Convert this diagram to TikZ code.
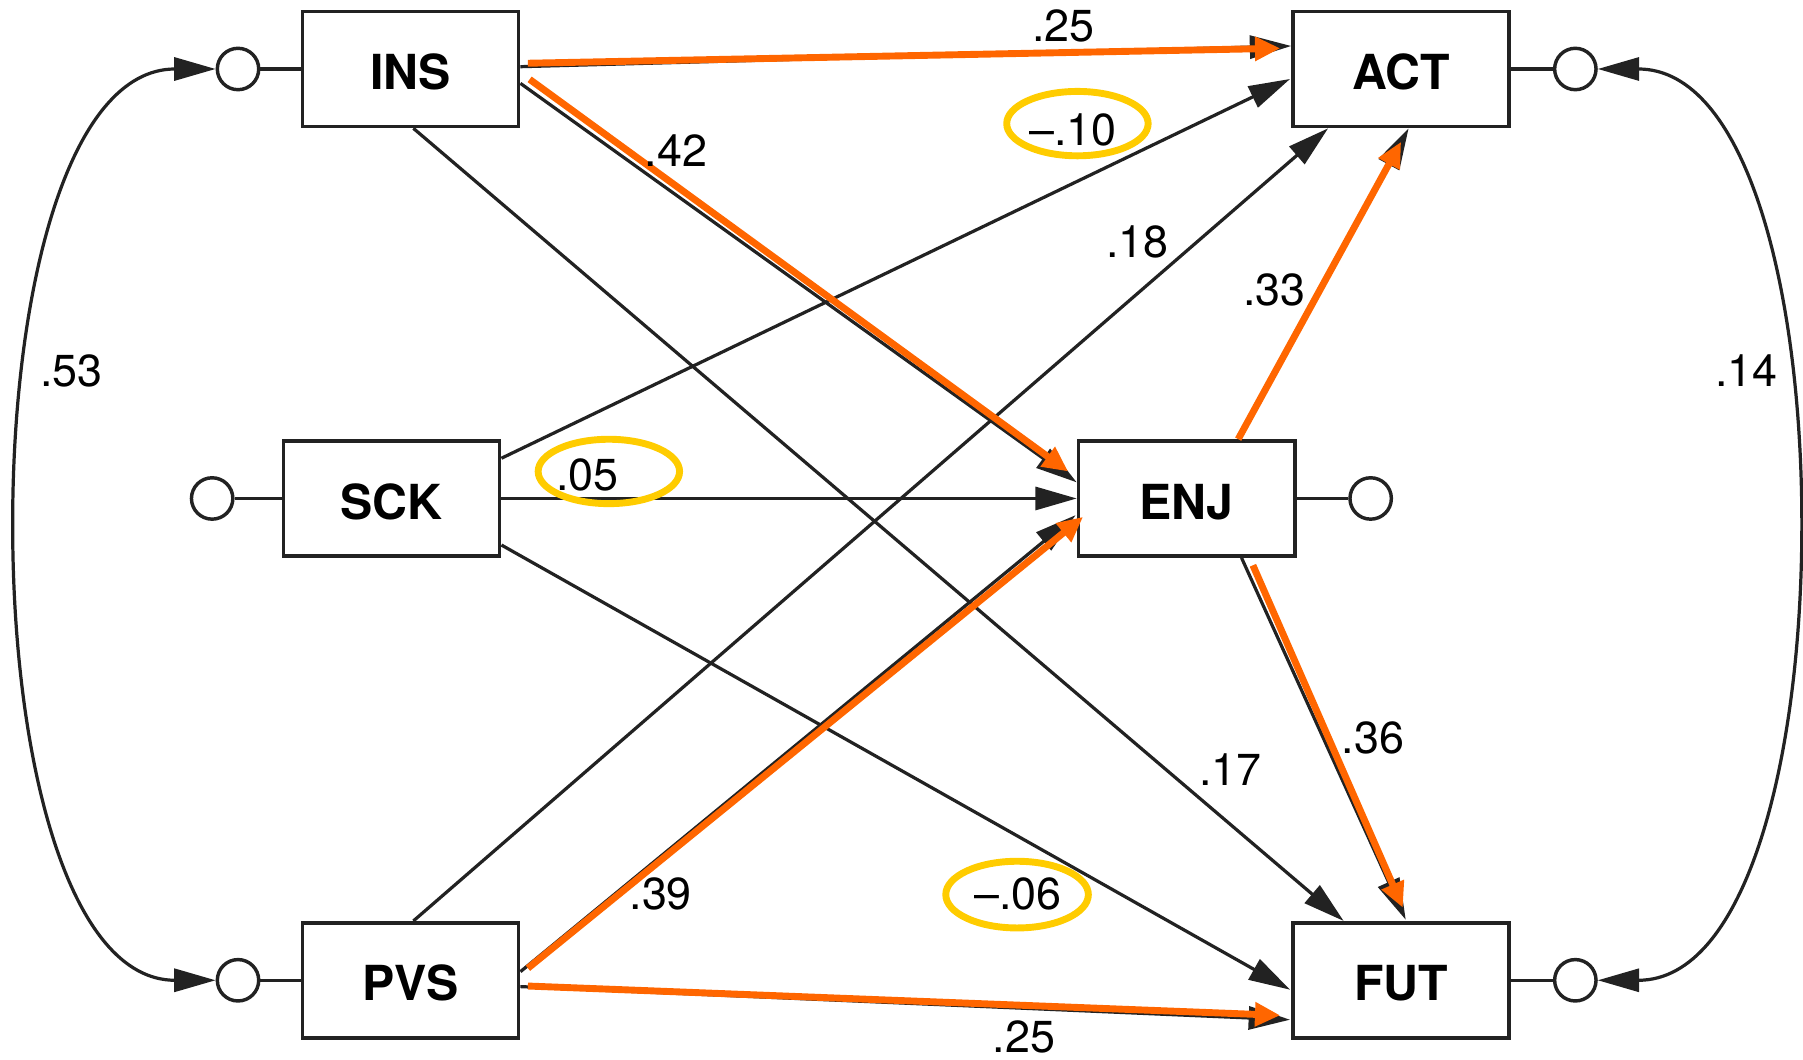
\documentclass[tikz,border=0pt]{standalone}
\usepackage{fontspec}
\setmainfont{TeX Gyre Heros}
\usetikzlibrary{arrows.meta,shapes.geometric,calc}
\definecolor{linec}{HTML}{222222}
\definecolor{hotorange}{HTML}{FF6600}
\definecolor{gold}{HTML}{FFCC00}
\tikzset{
  var/.style={draw=linec, line width=1.6pt, minimum width=94pt, minimum height=50pt,
    inner sep=0pt, font=\fontsize{21}{21}\selectfont\bfseries, text height=18pt, text depth=0pt},
  err/.style={circle, draw=linec, line width=1.5pt, minimum size=18pt, inner sep=0pt},
  effect/.style={draw=linec, line width=1.4pt, -{Triangle[length=18pt,width=10pt]}},
  hot/.style={draw=hotorange, line width=3pt, -{Triangle[length=11pt,width=10pt]}},
  cov/.style={draw=linec, line width=1.4pt, {Triangle[length=18pt,width=10pt]}-{Triangle[length=18pt,width=10pt]}},
  coef/.style={font=\fontsize{19.5}{20}\selectfont, inner sep=0pt},
  hilite/.style={ellipse, draw=gold, line width=3pt, minimum width=61.5pt, minimum height=28pt, inner sep=0pt},
}
\begin{document}
\begin{tikzpicture}[x=0.5pt,y=-0.5pt]
\useasboundingbox (0,0) rectangle (1568,921);

% observed variables
\node[var] (INS) at (357,60) {INS};
\node[var] (ACT) at (1218.5,60) {ACT};
\node[var] (SCK) at (340.5,433.5) {SCK};
\node[var] (ENJ) at (1032,433.5) {ENJ};
\node[var] (PVS) at (357,852.5) {PVS};
\node[var] (FUT) at (1218.5,852.5) {FUT};

% residual / exogenous circles
\node[err] (eINS) at (207,60) {};
\node[err] (eACT) at (1370,60) {};
\node[err] (eSCK) at (184.5,433.5) {};
\node[err] (eENJ) at (1192,433.5) {};
\node[err] (ePVS) at (207,852.5) {};
\node[err] (eFUT) at (1370,852.5) {};

\foreach \c/\v in {eINS/INS,eACT/ACT,eSCK/SCK,eENJ/ENJ,ePVS/PVS,eFUT/FUT}
  \draw[linec, line width=1.4pt] (\c) -- (\v);

% covariances
\draw[cov] (eINS.west) .. controls (60,60) and (11,250) .. (11,456)
  .. controls (11,662) and (60,852.5) .. (ePVS.west);
\draw[cov] (eACT.east) .. controls (1518,60) and (1567,250) .. (1567,456)
  .. controls (1567,662) and (1518,852.5) .. (eFUT.east);

% black paths
\draw[effect] ($(INS.east)+(0,-2)$) -- ($(ACT.west)+(0,-20)$);
\draw[effect] ($(INS.east)+(0,12.5)$) -- ($(ENJ.west)+(0,-14)$);
\draw[effect] ($(INS.south)+(2.5,0)$) -- ($(FUT.north)+(-50,0)$);
\draw[effect] ($(SCK.east)+(0,-35)$) -- ($(ACT.west)+(-1,8.7)$);
\draw[effect] (SCK.east) -- (ENJ.west);
\draw[effect] ($(SCK.east)+(0,40.5)$) -- ($(FUT.west)+(-1,8.2)$);
\draw[effect] ($(PVS.north)+(2.5,0)$) -- ($(ACT.south)+(-63.5,0)$);
\draw[effect] ($(PVS.east)+(0,-7.5)$) -- ($(ENJ.west)+(-1,14.5)$);
\draw[effect] ($(PVS.east)+(0,5.5)$) -- ($(FUT.west)+(-1,34.3)$);
\draw[effect] ($(ENJ.north)+(46,0)$) -- ($(ACT.south)+(6.5,0)$);
\draw[effect] ($(ENJ.south)+(47.7,0)$) -- ($(FUT.north)+(4,-1)$);

% significant paths
\draw[hot] ($(INS.east)+(6.5,-5)$) -- ($(ACT.west)+(-9.5,-18)$);
\draw[hot] ($(INS.east)+(8,9)$) -- ($(ENJ.west)+(-7.5,-23.5)$);
\draw[hot] ($(PVS.east)+(6.5,-10.5)$) -- ($(ENJ.west)+(5.5,16)$);
\draw[hot] ($(PVS.east)+(6.5,5)$) -- ($(FUT.west)+(-9.5,30.5)$);
\draw[hot] ($(ENJ.north)+(44.8,0)$) -- ($(ACT.south)+(0,11.7)$);
\draw[hot] ($(ENJ.south)+(57.6,6.5)$) -- ($(FUT.north)+(1.5,-11.5)$);

% coefficients
\node[coef] (k1) at (925,22.5) {.25};
\node[coef] (k2) at (588,131) {.42};
\node[coef] (k3) at (933,113) {\textendash.10};
\node[coef] (k4) at (989,210) {.18};
\node[coef] (k5) at (1108.5,252.5) {.33};
\node[coef] (k6) at (62.3,322.5) {.53};
\node[coef] (k7) at (1519,322.5) {.14};
\node[coef] (k8) at (511,413) {.05};
\node[coef] (k9) at (1070,669) {.17};
\node[coef] (k10) at (1194,642) {.36};
\node[coef] (k11) at (574.6,777.5) {.39};
\node[coef] (k12) at (885.4,777.5) {\textendash.06};
\node[coef] (k13) at (890.6,902) {.25};

% highlighted coefficients
\node[hilite] (h1) at (937,107.5) {};
\node[hilite] (h2) at (529.5,410) {};
\node[hilite, minimum width=62pt, minimum height=29pt] (h3) at (884.5,778) {};
\end{tikzpicture}
\end{document}
